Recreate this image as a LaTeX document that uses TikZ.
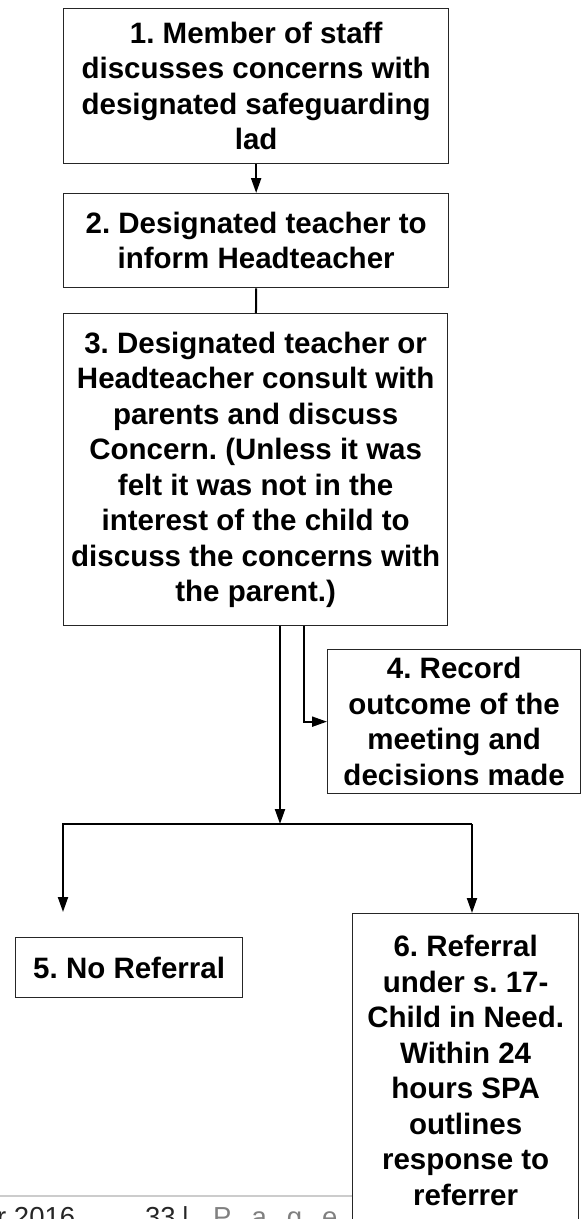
\documentclass[tikz,border=0pt]{standalone}
\usepackage{fontspec}
\setmainfont{Liberation Sans}
\usetikzlibrary{arrows.meta}
\frenchspacing

\begin{document}
\begin{tikzpicture}
      [x=1pt, y=-1pt,
       box/.style={draw=black!85, line width=1.3pt, fill=white, inner sep=2pt,
         anchor=north west, align=center,
         font=\bfseries\fontsize{29.5}{35.5}\selectfont},
       link/.style={line width=2pt, -{Triangle[length=15pt,width=10pt]}},
       foot/.style={inner sep=0pt, anchor=base west, font=\fontsize{27.5}{30}\selectfont}]
      \useasboundingbox (0,0) rectangle (583,1219);
      \clip (0,0) rectangle (583,1219);

      % footer of the page
      \draw[black!20, line width=1.5pt] (0,1196) -- (352,1196);
      \node[foot, text=black!85] (date) at (-3,1226) {r 2016};
      \node[foot, text=black!85] (pnum) at (145,1226) {33\hspace{6pt}|};
      \node[foot, text=black!50] (pword) at (213,1226)
        {P\hspace{20pt}a\hspace{20pt}g\hspace{20pt}e};

      % the steps
      \node[box, minimum width=385pt, minimum height=155pt] (s1) at (63,8)
        {1. Member of staff\\ discusses concerns with\\ designated safeguarding\\ lad};
      \node[box, minimum width=385pt, minimum height=94pt] (s2) at (63,193)
        {2. Designated teacher to\\ inform Headteacher};
      \node[box, minimum width=384pt, minimum height=312pt] (s3) at (63,313)
        {3. Designated teacher or\\ Headteacher consult with\\ parents and discuss\\
         Concern. (Unless it was\\ felt it was not in the\\ interest of the child to\\
         discuss the concerns with\\ the parent.)};
      \node[box, minimum width=253pt, minimum height=144pt] (s4) at (327,649)
        {4. Record\\ outcome of the\\ meeting and\\ decisions made};
      \node[box, minimum width=227pt, minimum height=60pt] (s5) at (15,937)
        {5. No Referral};
      \node[box, minimum width=226pt, minimum height=314pt] (s6) at (352,913)
        {6. Referral\\ under s. 17-\\ Child in Need.\\ Within 24\\ hours SPA\\
         outlines\\ response to\\ referrer};

      \coordinate (fork) at (280,824);
      \coordinate (forkl) at (63,824);
      \coordinate (forkr) at (472,824);
      \coordinate (endl) at (63,912);

      \draw[link] (s1) -- (s2);
      \draw[line width=2pt] (s2) -- (s3);
      \draw[link] ([xshift=48pt]s3.south) |- (s4.west);
      \draw[link] (s3.south -| fork) -- (fork);
      \draw[link] (forkr) -- (forkl) -- (endl);
      \draw[link] (forkr) -- (forkr |- s6.north);
    \end{tikzpicture}
\end{document}
